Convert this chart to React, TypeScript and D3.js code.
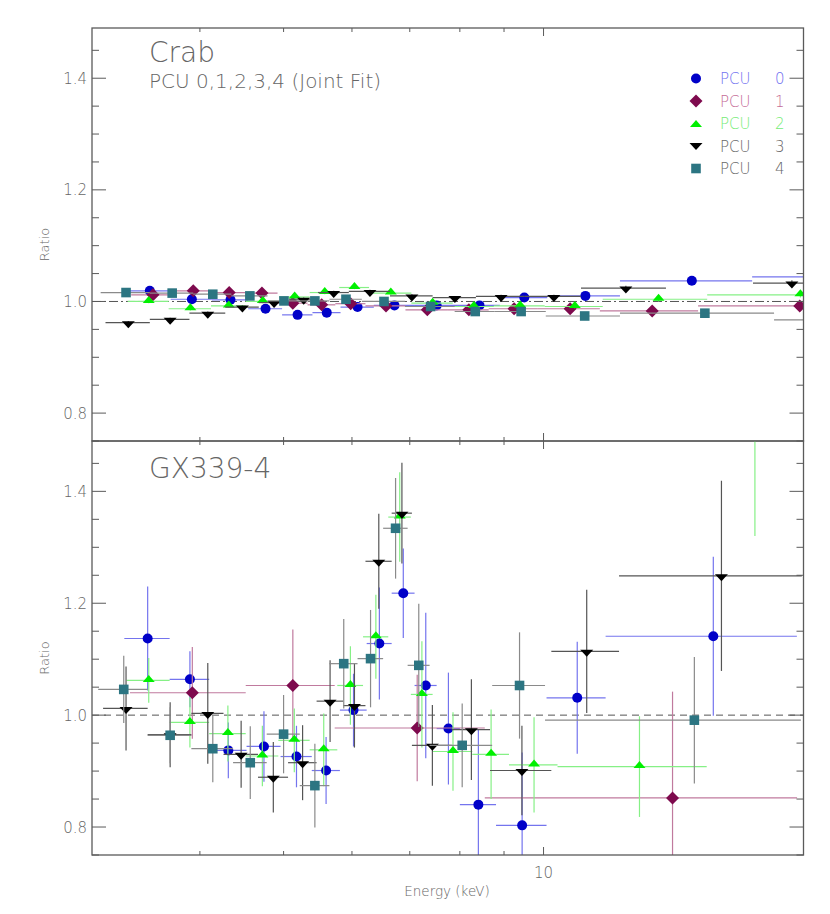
import React from 'react';
import * as d3 from 'd3';

// ---------- axis settings ----------
const E_DOMAIN = [3, 20];
const R_DOMAIN = [0.75, 1.49];
const xMinorTicks = [4, 5, 6, 7, 8, 9];
const xMajorTicks = [10];
const xTickLabels = ['10'];
const yMajorTicks = [0.8, 1.0, 1.2, 1.4];
const yTickLabels = ['0.8', '1.0', '1.2', '1.4'];
const yMinorTicks = [0.75, 0.85, 0.9, 0.95, 1.05, 1.1, 1.15, 1.25, 1.3, 1.35, 1.45];

const seriesNames = ['0', '1', '2', '3', '4'];
const topTitle = 'Crab';
const topSubtitle = 'PCU 0,1,2,3,4 (Joint Fit)';
const bottomTitle = 'GX339-4';

// ---------- Crab data: [E_lo, E_hi, ratio, err] (keV) ----------
const crabPcu0 = [
  [3.30, 3.70, 1.019, 0.003], [3.70, 4.13, 1.004, 0.003], [4.13, 4.55, 1.003, 0.003],
  [4.55, 4.98, 0.987, 0.003], [4.98, 5.40, 0.976, 0.003], [5.40, 5.82, 0.980, 0.003],
  [5.82, 6.36, 0.990, 0.003], [6.36, 7.08, 0.993, 0.003], [7.08, 7.96, 0.993, 0.003],
  [7.96, 8.90, 0.993, 0.003], [8.90, 10.1, 1.007, 0.003], [10.1, 12.26, 1.010, 0.003],
  [12.26, 17.44, 1.037, 0.004], [17.44, 24.0, 1.044, 0.005],
];
const crabPcu1 = [
  [3.33, 3.73, 1.012, 0.003], [3.73, 4.13, 1.019, 0.003], [4.13, 4.52, 1.016, 0.003],
  [4.52, 4.92, 1.015, 0.003], [4.92, 5.33, 0.997, 0.003], [5.33, 5.74, 0.994, 0.003],
  [5.74, 6.22, 0.996, 0.003], [6.22, 6.92, 0.992, 0.003], [6.92, 7.75, 0.985, 0.003],
  [7.75, 8.64, 0.985, 0.003], [8.64, 9.85, 0.987, 0.003], [9.85, 11.62, 0.987, 0.003],
  [11.62, 15.10, 0.983, 0.004], [15.10, 24.5, 0.992, 0.005],
];
const crabPcu2 = [
  [3.30, 3.68, 1.000, 0.003], [3.68, 4.12, 0.987, 0.003], [4.12, 4.52, 0.992, 0.003],
  [4.52, 4.94, 1.000, 0.003], [4.94, 5.36, 1.008, 0.003], [5.36, 5.80, 1.016, 0.003],
  [5.80, 6.28, 1.025, 0.003], [6.28, 7.03, 1.015, 0.003], [7.03, 7.85, 0.997, 0.003],
  [7.85, 8.76, 0.991, 0.003], [8.76, 10.03, 0.992, 0.003], [10.03, 11.71, 0.991, 0.003],
  [11.71, 15.47, 1.004, 0.004], [15.47, 24.2, 1.012, 0.005],
];
const crabPcu3 = [
  [3.11, 3.50, 0.962, 0.003], [3.50, 3.89, 0.968, 0.003], [3.89, 4.28, 0.979, 0.003],
  [4.28, 4.68, 0.990, 0.003], [4.68, 5.07, 0.998, 0.003], [5.07, 5.48, 1.004, 0.003],
  [5.48, 5.95, 1.016, 0.003], [5.95, 6.64, 1.018, 0.003], [6.64, 7.44, 1.010, 0.003],
  [7.44, 8.35, 1.007, 0.003], [8.35, 9.51, 1.009, 0.003], [9.51, 11.05, 1.009, 0.003],
  [11.05, 13.86, 1.024, 0.004], [17.48, 21.3, 1.033, 0.005],
];
const crabPcu4 = [
  [3.07, 3.50, 1.016, 0.003], [3.50, 3.93, 1.015, 0.003], [3.93, 4.35, 1.013, 0.003],
  [4.35, 4.79, 1.010, 0.003], [4.79, 5.22, 1.001, 0.003], [5.22, 5.65, 1.001, 0.003],
  [5.65, 6.16, 1.004, 0.003], [6.16, 6.91, 1.000, 0.003], [6.91, 7.89, 0.991, 0.003],
  [7.89, 8.78, 0.982, 0.003], [8.78, 10.06, 0.982, 0.003], [10.06, 12.26, 0.974, 0.003],
  [12.26, 18.49, 0.979, 0.004], [18.49, 24.0, 0.967, 0.005],
];

// ---------- GX339-4 data: [E_lo, E_hi, ratio, err] (keV) ----------
const gxPcu0 = [
  [3.27, 3.69, 1.137, 0.093], [3.69, 4.10, 1.064, 0.05], [4.10, 4.53, 0.937, 0.05],
  [4.53, 4.96, 0.944, 0.063], [4.96, 5.39, 0.926, 0.055], [5.39, 5.81, 0.901, 0.06],
  [5.81, 6.24, 1.009, 0.065], [6.24, 6.67, 1.128, 0.10], [6.67, 7.09, 1.218, 0.08],
  [7.09, 7.52, 1.053, 0.13], [7.52, 8.00, 0.976, 0.10], [8.00, 8.81, 0.840, 0.135],
  [8.81, 10.08, 0.803, 0.13], [10.08, 11.80, 1.031, 0.10], [11.80, 19.65, 1.141, 0.142],
];
const gxPcu1 = [
  [3.32, 4.52, 1.040, 0.082], [4.52, 5.73, 1.053, 0.10], [5.73, 8.55, 0.977, 0.095],
  [8.55, 19.66, 0.852, 0.19],
];
const gxPcu2 = [
  [3.29, 3.69, 1.062, 0.04], [3.69, 4.10, 0.987, 0.045], [4.10, 4.52, 0.967, 0.05],
  [4.52, 4.93, 0.927, 0.054], [4.93, 5.36, 0.955, 0.057], [5.36, 5.77, 0.938, 0.065],
  [5.77, 6.18, 1.053, 0.07], [6.18, 6.61, 1.140, 0.075], [6.61, 7.02, 1.354, 0.08],
  [7.02, 7.44, 1.037, 0.095], [7.44, 8.27, 0.935, 0.07], [8.27, 9.12, 0.930, 0.08],
  [9.12, 10.38, 0.911, 0.085], [10.38, 15.45, 0.908, 0.09], [15.45, 19.69, 1.52, 0.2],
];
const gxPcu3 = [
  [3.09, 3.48, 1.012, 0.075], [3.48, 3.91, 0.965, 0.058], [3.91, 4.26, 1.003, 0.09],
  [4.26, 4.67, 0.930, 0.06], [4.67, 5.06, 0.889, 0.063], [5.06, 5.46, 0.915, 0.067],
  [5.46, 5.86, 1.025, 0.073], [5.86, 6.22, 1.017, 0.075], [6.22, 6.67, 1.275, 0.085],
  [6.67, 7.04, 1.361, 0.09], [7.04, 7.83, 0.946, 0.072], [7.83, 8.67, 0.974, 0.09],
  [8.67, 10.21, 0.901, 0.08], [10.21, 12.23, 1.114, 0.11], [12.23, 19.91, 1.249, 0.17],
];
const gxPcu4 = [
  [3.05, 3.48, 1.046, 0.06], [3.48, 3.91, 0.964, 0.05], [3.91, 4.37, 0.940, 0.06],
  [4.37, 4.78, 0.915, 0.065], [4.78, 5.22, 0.966, 0.07], [5.22, 5.65, 0.874, 0.075],
  [5.65, 6.09, 1.092, 0.08], [6.09, 6.52, 1.101, 0.087], [6.52, 6.96, 1.334, 0.09],
  [6.96, 7.38, 1.089, 0.11], [7.38, 8.72, 0.946, 0.075], [8.72, 10.04, 1.053, 0.095],
  [10.04, 19.86, 0.991, 0.113],
];

const crabData = [crabPcu0, crabPcu1, crabPcu2, crabPcu3, crabPcu4];
const gxData = [gxPcu0, gxPcu1, gxPcu2, gxPcu3, gxPcu4];

// ---------- styles ----------
const STYLES = [
  { shape: 'circle', fill: '#0000c8', err: '#7474ee', text: '#7070f0' },
  { shape: 'diamond', fill: '#7e0a4e', err: '#c07a9e', text: '#c46a96' },
  { shape: 'tri', fill: '#00f000', err: '#86f086', text: '#74ec74' },
  { shape: 'tridown', fill: '#000000', err: '#555555', text: '#666666' },
  { shape: 'square', fill: '#2c7582', err: '#8a8a8a', text: '#666666' },
];

const FONT = '"DejaVu Sans", "Liberation Sans", sans-serif';
const AXIS = '#5a5a5a';
const TXT = '#666666';

const X0 = 92, X1 = 803.5;
const TOP_Y0 = 28, MID_Y = 441, BOT_Y1 = 855;

function markerPath(shape: string): string {
  switch (shape) {
    case 'circle':
      return d3.symbol(d3.symbolCircle, Math.PI * 5 * 5)() as string;
    case 'diamond':
      return 'M0,-6.5L6.5,0L0,6.5L-6.5,0Z';
    case 'tri':
      return 'M-6,1.5L6,1.5L0,-5.5Z';
    case 'tridown':
      return 'M-6.5,-1.5L6.5,-1.5L0,5.5Z';
    default:
      return 'M-4.8,-4.8H4.8V4.8H-4.8Z';
  }
}

function Panel(props: { id: string; y: any; data: number[][][]; refStyle: 'dashdot' | 'dash'; showX: boolean }) {
  const { id, y, data, refStyle, showX } = props;
  const x = d3.scaleLog().domain(E_DOMAIN).range([X0, X1]);
  const [yB, yT] = y.range();
  return (
    <g>
      <defs>
        <clipPath id={id}>
          <rect x={X0} y={yT} width={X1 - X0} height={yB - yT} />
        </clipPath>
      </defs>
      <line x1={X0} x2={X1} y1={y(1)} y2={y(1)} stroke="#555" strokeWidth={1}
        strokeDasharray={refStyle === 'dash' ? '7,5' : '9,3,2,3'} />
      <g clipPath={`url(#${id})`}>
        {data.map((pts, si) => {
          const st = STYLES[si];
          return (
            <g key={si}>
              {pts.map((p, i) => {
                const cx = x((p[0] + p[1]) / 2);
                const cy = y(p[2]);
                return (
                  <g key={i} stroke={st.err} strokeWidth={1.2}>
                    <line x1={x(p[0])} x2={x(p[1])} y1={cy} y2={cy} />
                    <line x1={cx} x2={cx} y1={y(p[2] - p[3])} y2={y(p[2] + p[3])} />
                  </g>
                );
              })}
              {pts.map((p, i) => (
                <path key={'m' + i} d={markerPath(st.shape)} fill={st.fill}
                  transform={`translate(${x((p[0] + p[1]) / 2)},${y(p[2])})`} />
              ))}
            </g>
          );
        })}
      </g>
      <rect x={X0} y={yT} width={X1 - X0} height={yB - yT} fill="none" stroke={AXIS} strokeWidth={1.3} />
      {xMinorTicks.map((t) => (
        <g key={'xm' + t} stroke={AXIS} strokeWidth={1}>
          <line x1={x(t)} x2={x(t)} y1={yB} y2={yB - 4} />
          <line x1={x(t)} x2={x(t)} y1={yT} y2={yT + 4} />
        </g>
      ))}
      {xMajorTicks.map((t) => (
        <g key={'xM' + t} stroke={AXIS} strokeWidth={1}>
          <line x1={x(t)} x2={x(t)} y1={yB} y2={yB - 8} />
          <line x1={x(t)} x2={x(t)} y1={yT} y2={yT + 8} />
        </g>
      ))}
      {showX && xMajorTicks.map((t, i) => (
        <text key={'xl' + t} x={x(t)} y={yB + 23} textAnchor="middle" fontSize={15} fill={TXT}
          fontFamily={FONT} fontWeight={200}>{xTickLabels[i]}</text>
      ))}
      {yMinorTicks.map((t) => (
        <g key={'ym' + t} stroke={AXIS} strokeWidth={1}>
          <line x1={X0} x2={X0 + 7} y1={y(t)} y2={y(t)} />
          <line x1={X1} x2={X1 - 7} y1={y(t)} y2={y(t)} />
        </g>
      ))}
      {yMajorTicks.map((t, i) => (
        <g key={'yM' + t}>
          <line x1={X0} x2={X0 + 14} y1={y(t)} y2={y(t)} stroke={AXIS} strokeWidth={1} />
          <line x1={X1} x2={X1 - 14} y1={y(t)} y2={y(t)} stroke={AXIS} strokeWidth={1} />
          <text x={X0 - 5} y={y(t) + 5.5} textAnchor="end" fontSize={15} fill={TXT}
            fontFamily={FONT} fontWeight={200}>{yTickLabels[i]}</text>
        </g>
      ))}
      <text transform={`translate(49,${(yT + yB) / 2 + 10}) rotate(-90)`} textAnchor="middle"
        fontSize={13} fill={TXT} fontFamily={FONT} fontWeight={200}>Ratio</text>
    </g>
  );
}

export default function App() {
  const yTop = d3.scaleLinear().domain(R_DOMAIN).range([MID_Y, TOP_Y0]);
  const yBot = d3.scaleLinear().domain(R_DOMAIN).range([BOT_Y1, MID_Y]);
  return (
    <svg width={830} height={914} style={{ display: 'block', position: 'absolute', left: 0, top: 0, background: '#fff' }}>
      <rect width={830} height={914} fill="#fff" />
      <Panel id="clipTop" y={yTop} data={crabData} refStyle="dashdot" showX={false} />
      <Panel id="clipBot" y={yBot} data={gxData} refStyle="dash" showX={true} />
      <text x={149} y={62} fontSize={28} fill={TXT} fontFamily={FONT} fontWeight={200}>{topTitle}</text>
      <text x={149} y={88} fontSize={20} fill={TXT} fontFamily={FONT} fontWeight={200}>{topSubtitle}</text>
      <text x={149} y={478} fontSize={28} fill={TXT} fontFamily={FONT} fontWeight={200}>{bottomTitle}</text>
      {seriesNames.map((n, i) => {
        const ly = 78.5 + i * 22.5;
        const st = STYLES[i];
        return (
          <g key={'lg' + n}>
            <path d={markerPath(st.shape)} fill={st.fill}
              transform={`translate(696,${ly + (st.shape === 'tri' ? 2 : st.shape === 'tridown' ? -1.5 : 0)})`} />
            <text x={720} y={ly + 5.5} fontSize={15} fill={st.text} fontFamily={FONT} fontWeight={200}>PCU</text>
            <text x={775} y={ly + 5.5} fontSize={15} fill={st.text} fontFamily={FONT} fontWeight={200}>{n}</text>
          </g>
        );
      })}
      <text x={447} y={896} textAnchor="middle" fontSize={13.5} fill={TXT} fontFamily={FONT} fontWeight={200}>Energy (keV)</text>
    </svg>
  );
}
